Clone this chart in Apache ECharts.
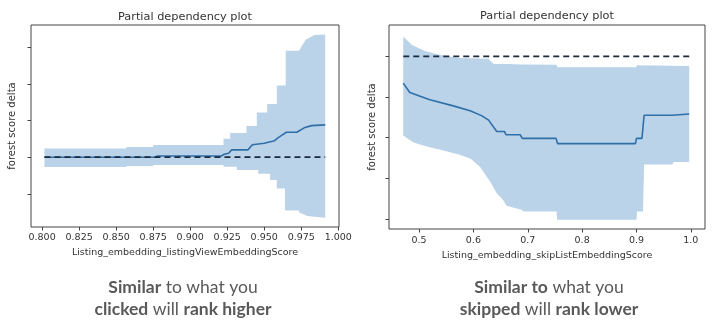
<!DOCTYPE html>
<html>
<head>
<meta charset="utf-8">
<script src="https://cdn.jsdelivr.net/npm/echarts@6/dist/echarts.min.js"></script>
<style>
html,body{margin:0;padding:0;background:#fff;}
#chart{width:720px;height:332px;}
</style>
</head>
<body>
<div id="chart"></div>
<script>
// ---------- Left plot: Listing_embedding_listingViewEmbeddingScore ----------
var leftUpper = [[0.8016,0.235],[0.857,0.235],[0.857,0.28],[0.875,0.28],[0.875,0.33],[0.9225,0.33],[0.9225,0.5],[0.927,0.5],[0.927,0.66],[0.938,0.66],[0.938,0.85],[0.945,0.85],[0.945,1.22],[0.952,1.22],[0.952,1.45],[0.9585,1.45],[0.9585,1.95],[0.9645,1.95],[0.9645,2.9],[0.9735,2.9],[0.978,3.2],[0.984,3.33],[0.9912,3.34]];
var leftLower = [[0.8016,-0.265],[0.857,-0.265],[0.857,-0.24],[0.875,-0.24],[0.875,-0.21],[0.9225,-0.21],[0.9225,-0.26],[0.9315,-0.26],[0.9315,-0.35],[0.946,-0.35],[0.946,-0.45],[0.954,-0.45],[0.954,-0.62],[0.9585,-0.62],[0.9585,-0.85],[0.964,-0.85],[0.964,-1.45],[0.9735,-1.45],[0.9735,-1.5],[0.979,-1.6],[0.9912,-1.65]];
var leftMean = [[0.8016,0],[0.876,0],[0.878,0.035],[0.921,0.035],[0.923,0.08],[0.926,0.11],[0.928,0.2],[0.939,0.2],[0.942,0.34],[0.95,0.38],[0.951,0.43],[0.957,0.45],[0.959,0.52],[0.962,0.6],[0.965,0.68],[0.972,0.68],[0.977,0.8],[0.982,0.86],[0.9912,0.88]];
var leftBaseline = [[0.8016,0],[0.9912,0]];
var leftXTicks = [0.800,0.825,0.850,0.875,0.900,0.925,0.950,0.975,1.000];
var leftYTicks = [-1,0,1,2,3];

// ---------- Right plot: Listing_embedding_skipListEmbeddingScore ----------
var rightUpper = [[0.471,0.49],[0.487,0.28],[0.511,0.13],[0.53,0.06],[0.545,0.02],[0.572,-0.04],[0.628,-0.06],[0.63,-0.1],[0.637,-0.19],[0.664,-0.19],[0.69,-0.2],[0.753,-0.21],[0.755,-0.27],[0.899,-0.27],[0.901,-0.22],[0.997,-0.24]];
var rightLower = [[0.471,-1.95],[0.49,-2.12],[0.514,-2.22],[0.545,-2.32],[0.575,-2.42],[0.595,-2.52],[0.612,-2.72],[0.631,-3.09],[0.643,-3.37],[0.655,-3.54],[0.661,-3.68],[0.69,-3.78],[0.691,-3.82],[0.753,-3.82],[0.754,-4.02],[0.9,-4.02],[0.901,-3.82],[0.912,-3.82],[0.914,-2.66],[0.966,-2.66],[0.968,-2.6],[0.997,-2.6]];
var rightMean = [[0.471,-0.66],[0.483,-0.89],[0.52,-1.07],[0.563,-1.22],[0.594,-1.34],[0.615,-1.46],[0.628,-1.57],[0.643,-1.85],[0.657,-1.85],[0.66,-1.93],[0.686,-1.93],[0.69,-2.02],[0.752,-2.02],[0.755,-2.15],[0.898,-2.15],[0.9,-2.02],[0.91,-2.02],[0.914,-1.45],[0.965,-1.45],[0.997,-1.42]];
var rightBaseline = [[0.471,0],[0.997,0]];
var rightXTicks = [0.5,0.6,0.7,0.8,0.9,1.0];
var rightYTicks = [-4,-3,-2,-1,0];

var titles = ['Partial dependency plot','Partial dependency plot'];
var xNames = ['Listing_embedding_listingViewEmbeddingScore','Listing_embedding_skipListEmbeddingScore'];
var yName = 'forest score delta';

var bandColor = '#bad3e9';
var lineColor = '#2f6fa8';
var font = 'DejaVu Sans';
var textColor = '#333';

function bandSeries(idx, upper, lower) {
  return {
    type: 'custom', xAxisIndex: idx, yAxisIndex: idx, silent: true, z: 1,
    data: [upper[0]],
    renderItem: function (params, api) {
      var pts = upper.map(function (p) { return api.coord(p); })
        .concat(lower.slice().reverse().map(function (p) { return api.coord(p); }));
      return { type: 'polygon', shape: { points: pts }, style: { fill: bandColor } };
    }
  };
}
function meanSeries(idx, data) {
  return { type: 'line', xAxisIndex: idx, yAxisIndex: idx, data: data, symbol: 'none', z: 3,
    lineStyle: { color: lineColor, width: 1.6 }, silent: true };
}
function baseSeries(idx, data) {
  return { type: 'line', xAxisIndex: idx, yAxisIndex: idx, data: data, symbol: 'none', z: 4,
    lineStyle: { color: '#1b2a3d', width: 1.8, type: [6, 4] }, silent: true };
}
function xAxis(idx, min, max, ticks, dec, margin, gap) {
  return {
    type: 'value', gridIndex: idx, min: min, max: max,
    name: xNames[idx], nameLocation: 'middle', nameGap: gap,
    nameTextStyle: { fontFamily: font, fontSize: 9.5, color: textColor },
    axisLine: { show: false, onZero: false },
    axisTick: { show: true, length: 3.5, lineStyle: { color: '#444' }, customValues: ticks },
    axisLabel: { show: true, customValues: ticks, margin: margin, fontFamily: font, fontSize: 9.5, color: textColor,
      formatter: function (v) { return Number(v).toFixed(dec); } },
    splitLine: { show: false }
  };
}
function yAxis(idx, min, max, ticks, gap) {
  return {
    type: 'value', gridIndex: idx, min: min, max: max,
    name: yName, nameLocation: 'middle', nameGap: gap,
    nameTextStyle: { fontFamily: font, fontSize: 10, color: textColor },
    axisLine: { show: false, onZero: false },
    axisTick: { show: true, length: 3.5, lineStyle: { color: '#444' }, customValues: ticks },
    axisLabel: { show: false },
    splitLine: { show: false }
  };
}

var chart = echarts.init(document.getElementById('chart'), null, { renderer: 'canvas' });
chart.setOption({
  animation: false,
  backgroundColor: '#fff',
  grid: [
    { left: 31, top: 25, width: 308, height: 202, show: true, borderColor: '#444', borderWidth: 1, backgroundColor: 'transparent' },
    { left: 389, top: 25, width: 316, height: 204, show: true, borderColor: '#444', borderWidth: 1, backgroundColor: 'transparent' }
  ],
  xAxis: [
    xAxis(0, 0.7925, 1.0005, leftXTicks, 3, 6, 20),
    xAxis(1, 0.4448, 1.026, rightXTicks, 1, 7, 21)
  ],
  yAxis: [
    yAxis(0, -1.9, 3.6, leftYTicks, 14),
    yAxis(1, -4.25, 0.77, rightYTicks, 12)
  ],
  graphic: [
    { type: 'text', x: 185, y: 17, style: { text: titles[0], align: 'center', verticalAlign: 'middle', fontFamily: font, fontSize: 11.3, fill: textColor } },
    { type: 'text', x: 547, y: 16, style: { text: titles[1], align: 'center', verticalAlign: 'middle', fontFamily: font, fontSize: 11.3, fill: textColor } },
    { type: 'text', x: 183, y: 298, style: {
      text: '{b|Similar} to what you\n{b|clicked} will {b|rank higher}', align: 'center', verticalAlign: 'middle',
      fontFamily: 'Lato', fontSize: 17.5, fill: '#595959', lineHeight: 22,
      rich: { b: { fontFamily: 'Lato', fontWeight: 'bold', fontSize: 17.5, fill: '#595959', lineHeight: 22 } } } },
    { type: 'text', x: 549, y: 298, style: {
      text: '{b|Similar to} what you\n{b|skipped} will {b|rank lower}', align: 'center', verticalAlign: 'middle',
      fontFamily: 'Lato', fontSize: 17.5, fill: '#595959', lineHeight: 22,
      rich: { b: { fontFamily: 'Lato', fontWeight: 'bold', fontSize: 17.5, fill: '#595959', lineHeight: 22 } } } }
  ],
  series: [
    bandSeries(0, leftUpper, leftLower),
    meanSeries(0, leftMean),
    baseSeries(0, leftBaseline),
    bandSeries(1, rightUpper, rightLower),
    meanSeries(1, rightMean),
    baseSeries(1, rightBaseline)
  ]
});
</script>
</body>
</html>
